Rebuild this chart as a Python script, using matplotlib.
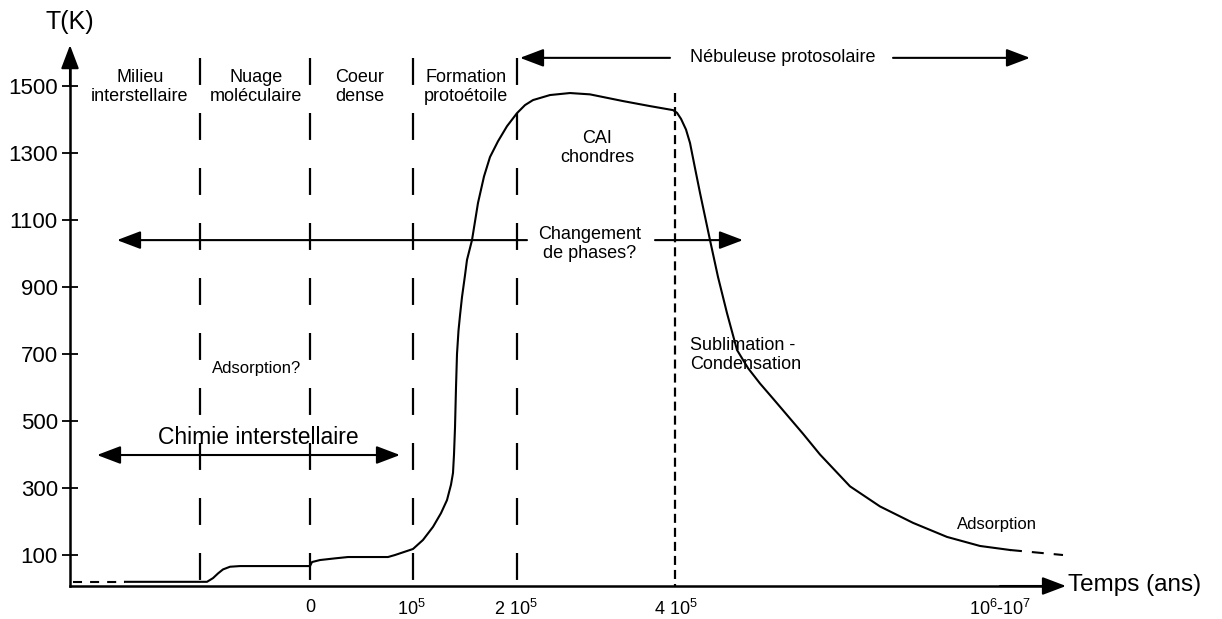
import matplotlib.pyplot as plt
from matplotlib.patches import FancyArrowPatch, ArrowStyle

plt.rcParams["font.family"] = ["Liberation Sans", "DejaVu Sans"]
plt.rcParams["mathtext.fontset"] = "custom"
plt.rcParams["mathtext.rm"] = "Liberation Sans"
plt.rcParams["mathtext.it"] = "Liberation Sans:italic"
plt.rcParams["lines.scale_dashes"] = False

# position le long de l'axe du temps (schematique) et temperature (K)
t_debut = [73, 125]
T_debut = [20, 20]

t_courbe = [125, 207, 213, 218, 223, 230, 240, 310, 312, 320, 335, 348, 388,
            395, 405, 413, 423, 433, 441, 447, 451, 453, 454, 455, 456, 457,
            458.5, 460, 462, 465, 467, 472, 478, 484, 490, 498, 507, 517, 525, 533,
            550, 570, 590, 623, 650, 673, 677, 681, 686, 690, 695, 700, 710,
            718, 727, 737, 748, 760, 773, 787, 803, 820, 850, 880, 913, 947, 980,
            1010]
T_courbe = [20, 20, 31, 45, 57, 65, 67, 67, 79, 85, 90, 94, 94,
            100, 110, 118, 145, 184, 225, 264, 310, 345, 400, 480, 600, 700,
            770, 815, 870, 935, 981, 1040, 1151, 1230, 1288, 1335, 1380, 1419, 1443, 1458,
            1473, 1479, 1475, 1455, 1440, 1428, 1420, 1402, 1370, 1330, 1255, 1181, 1040,
            930, 822, 712, 658, 612, 567, 518, 462, 400, 305, 245, 196, 154, 127,
            115]

t_fin = [1010, 1063]
T_fin = [115, 100]

# limites des phases
t_phases = [200, 310, 413, 517]
T_haut_phases = 1584
t_neb = 675
T_haut_neb = 1479

yticks = [100, 300, 500, 700, 900, 1100, 1300, 1500]
xtick_pos = [310, 411, 516, 676, 1000]
xtick_lab = ["0", r"$10^5$", r"2 $10^5$", r"4 $10^5$", r"$10^6$-$10^7$"]

T_axe = 7.5

fig = plt.figure(figsize=(12.22, 6.19), dpi=100)
ax = fig.add_axes([0, 0, 1, 1])
ax.set_xlim(0, 1222)
ax.set_ylim(-91, 1756.7)

for s in ["top", "right"]:
    ax.spines[s].set_visible(False)
ax.spines["left"].set_position(("data", 70))
ax.spines["bottom"].set_position(("data", T_axe))
ax.spines["left"].set_bounds(T_axe, 1600)
ax.spines["bottom"].set_bounds(70, 1050)
ax.spines["left"].set_linewidth(1.8)
ax.spines["bottom"].set_linewidth(1.8)

ax.set_yticks(yticks)
ax.set_yticklabels([str(v) for v in yticks], fontsize=16)
ax.tick_params(axis="y", direction="inout", length=11.5, width=1.3, pad=3)
ax.set_xticks(xtick_pos)
ax.set_xticklabels(xtick_lab, fontsize=13)
ax.tick_params(axis="x", length=0, pad=9)


def fleche(x0, y0, x1, y1, style="-|>"):
    ax.add_patch(FancyArrowPatch(
        (x0, y0), (x1, y1),
        arrowstyle=ArrowStyle(style, head_length=1.45, head_width=0.55),
        mutation_scale=10, lw=1.5, color="black",
        shrinkA=0, shrinkB=0, zorder=4))


# axes
fleche(70, 1500, 70, 1622)
fleche(1000, T_axe, 1066, T_axe)
ax.text(70, 1691, "T(K)", fontsize=18, ha="center", va="center")
ax.text(1068, T_axe + 4, "Temps (ans)", fontsize=17.5, ha="left", va="center")

# lignes de separation
for t in t_phases:
    ax.plot([t, t], [T_haut_phases, T_axe], color="black", lw=1.6,
            linestyle=(0, (19.4, 20.2)), zorder=2)
ax.plot([t_neb, t_neb], [T_haut_neb, T_axe], color="black", lw=1.6,
        linestyle=(0, (6.5, 3.6)), zorder=2)

# courbe
ax.plot(t_debut, T_debut, color="black", lw=1.5, linestyle=(0, (6.5, 5.8)), zorder=3)
ax.plot(t_courbe, T_courbe, color="black", lw=1.5, zorder=3)
ax.plot(t_fin, T_fin, color="black", lw=1.5, linestyle=(0, (8.6, 7.2)), zorder=3)

# fleches et textes
fleche(670, 1584, 520, 1584)
fleche(893, 1584, 1030, 1584)
ax.text(783, 1584, "Nébuleuse protosolaire", fontsize=13, ha="center", va="center")

fleche(527, 1040, 117, 1040)
fleche(655, 1040, 743, 1040)
ax.text(590, 1027, "Changement\nde phases?", fontsize=13, ha="center", va="center",
        linespacing=1.15)

fleche(97, 398.5, 400, 398.5, style="<|-|>")
ax.text(258, 452, "Chimie interstellaire", fontsize=16.5, ha="center", va="center")

ax.text(140, 1497, "Milieu\ninterstellaire", fontsize=13, ha="center", va="center",
        linespacing=1.15)
ax.text(256, 1497, "Nuage\nmoléculaire", fontsize=13, ha="center", va="center",
        linespacing=1.15)
ax.text(360, 1497, "Coeur\ndense", fontsize=13, ha="center", va="center",
        linespacing=1.15)
ax.text(466, 1497, "Formation\nprotoétoile", fontsize=13, ha="center", va="center",
        linespacing=1.15)
ax.text(597, 1315, "CAI\nchondres", fontsize=13, ha="center", va="center",
        linespacing=1.15)
ax.text(257, 658, "Adsorption?", fontsize=12, ha="center", va="center")
ax.text(690, 697, "Sublimation -\nCondensation", fontsize=13, ha="left", va="center",
        linespacing=1.15)
ax.text(997, 190, "Adsorption", fontsize=12, ha="center", va="center")

fig.savefig("out.png", dpi=100)
